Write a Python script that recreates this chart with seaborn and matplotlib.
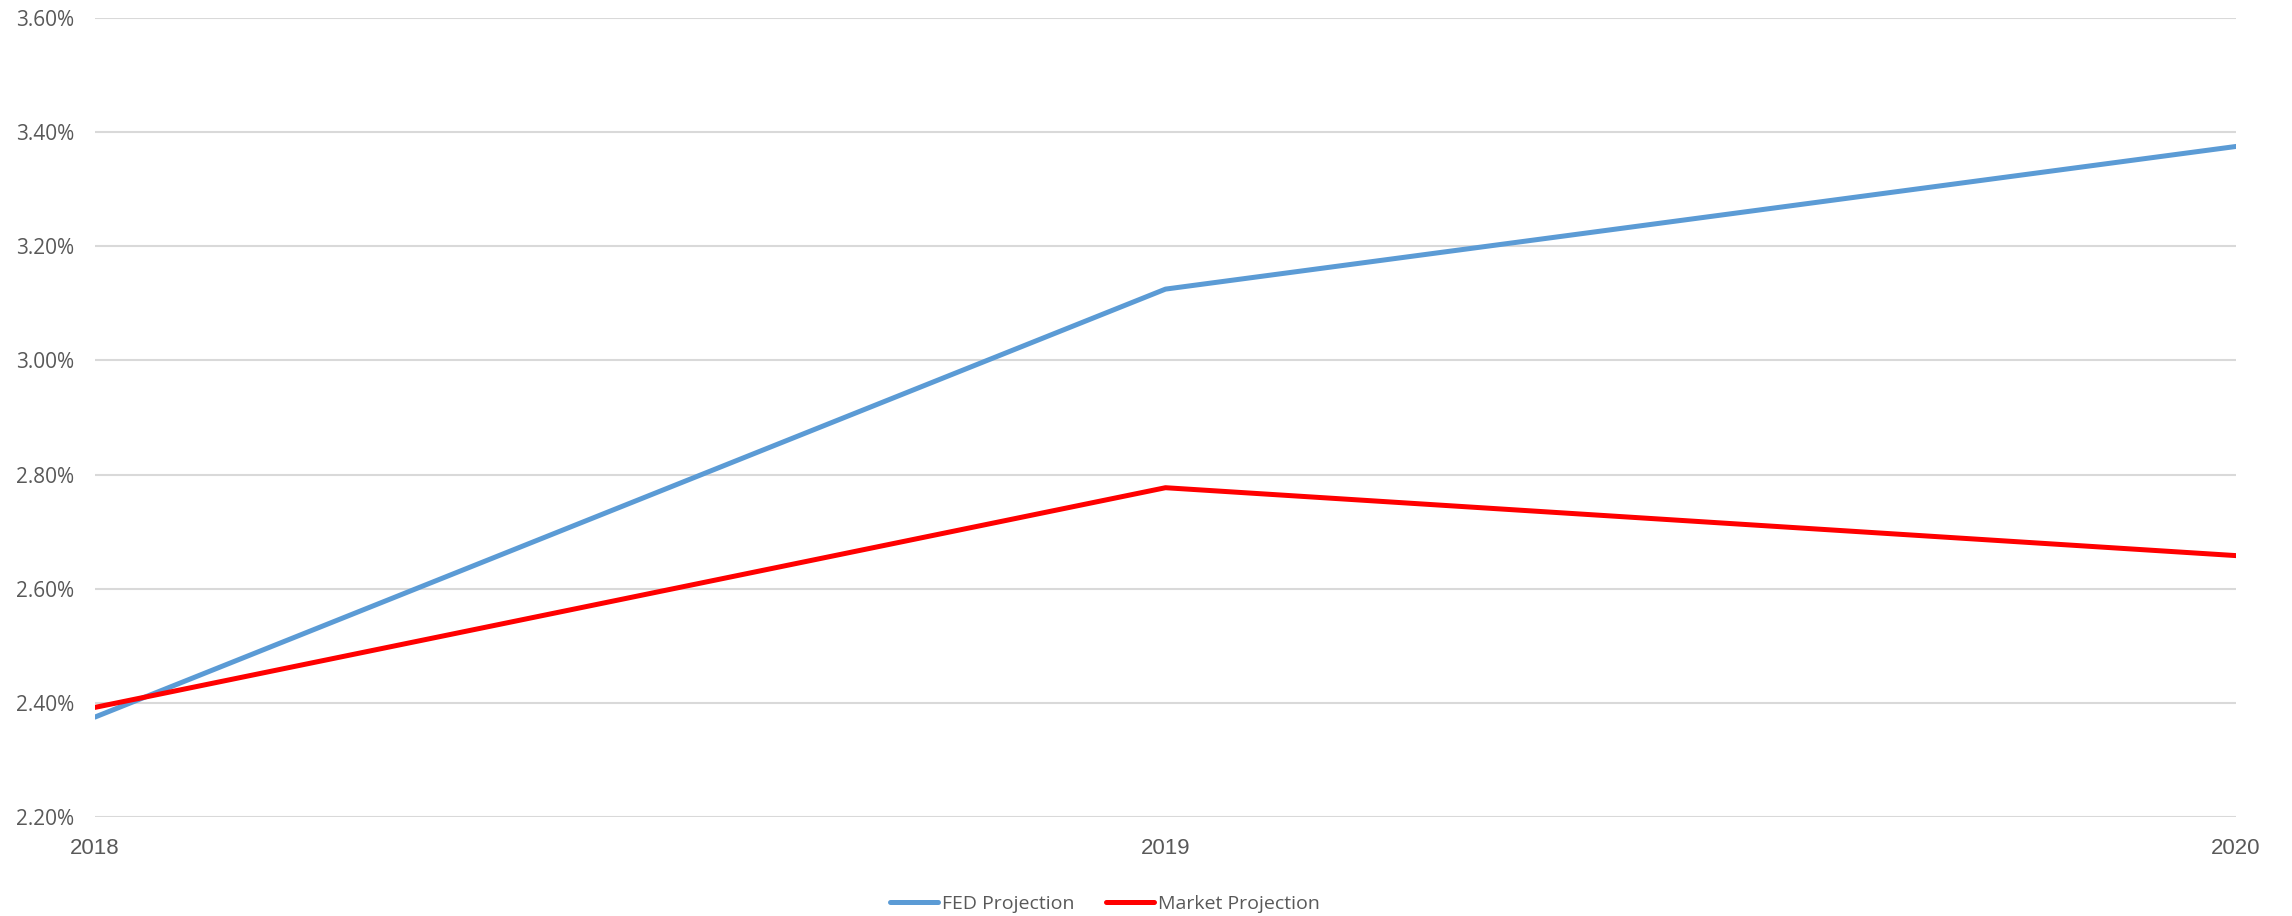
import pandas as pd
import matplotlib.pyplot as plt
import seaborn as sns
from matplotlib.ticker import FuncFormatter

# data (percent)
years = [2018, 2019, 2020]
fed_projection = [2.375, 3.125, 3.375]
market_projection = [2.392, 2.777, 2.658]

df = pd.DataFrame({
    'Year': years * 2,
    'Rate': fed_projection + market_projection,
    'Series': ['FED Projection'] * 3 + ['Market Projection'] * 3,
})

sns.set_style('white')
plt.rcParams['font.family'] = ['Open Sans', 'DejaVu Sans']
plt.rcParams['savefig.bbox'] = 'standard'

fig = plt.figure(figsize=(22.92, 9.16), dpi=100)
ax = fig.add_axes([0.0414, 0.1081, 0.9342, 0.8722])

sns.lineplot(data=df, x='Year', y='Rate', hue='Series',
             palette={'FED Projection': '#5b9bd5', 'Market Projection': '#ff0000'},
             linewidth=3.6, ax=ax, legend=True)

ax.set_xlim(2018, 2020)
ax.set_ylim(2.2, 3.6)
ax.set_yticks([2.2 + 0.2 * i for i in range(8)])
ax.yaxis.set_major_formatter(FuncFormatter(lambda v, p: f'{v:.2f}%'))
ax.set_xticks(years)
ax.set_xticklabels([str(y) for y in years], family='Liberation Sans')

# light horizontal grid only, no spines
ax.grid(axis='y', color='#d9d9d9', linewidth=1.5)
ax.set_axisbelow(True)
for s in ax.spines.values():
    s.set_visible(False)
ax.tick_params(axis='y', labelsize=15, colors='#595959', length=0, pad=15)
ax.tick_params(axis='x', labelsize=16, colors='#595959', length=0, pad=15)
ax.set_xlabel('')
ax.set_ylabel('')

leg = ax.legend(loc='center', bbox_to_anchor=(0.4717, -0.109), ncol=2, frameon=False,
                fontsize=14, handlelength=2.47, columnspacing=1.6, handletextpad=0.2)
for t in leg.get_texts():
    t.set_color('#595959')
for h in leg.get_lines():
    h.set_linewidth(3.6)
    h.set_solid_capstyle('round')

fig.savefig('out.png', dpi=100)
